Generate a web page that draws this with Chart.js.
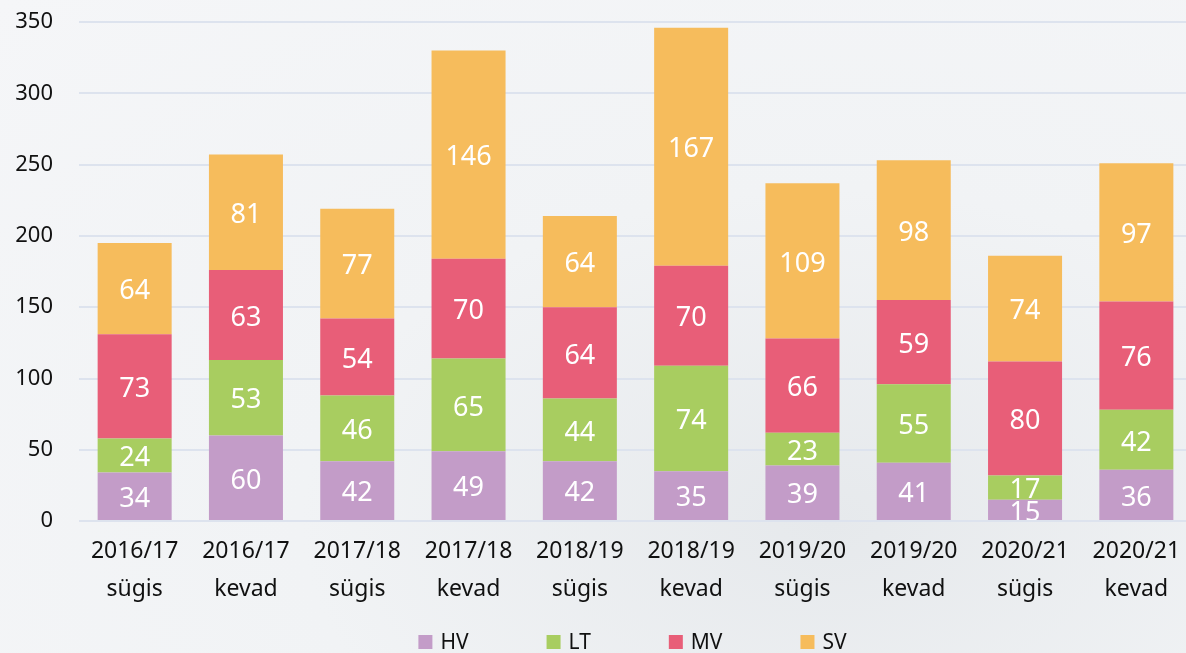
<!DOCTYPE html>
<html>
<head>
<meta charset="utf-8">
<script src="https://cdn.jsdelivr.net/npm/chart.js@4"></script>
<style>
  html, body { margin: 0; padding: 0; overflow: hidden; }
  body {
    width: 1186px; height: 653px;
    background: radial-gradient(ellipse at 70% 80%, #e6e9ec 0%, #f1f3f5 45%, #f5f6f8 100%);
  }
  #wrap { position: absolute; left: 0; top: 0; width: 1192px; height: 653px; }
</style>
</head>
<body>
<div id="wrap"><canvas id="chart"></canvas></div>
<script>
// categories and series
const labels = [
    ['2016/17', 'sügis'], ['2016/17', 'kevad'],
    ['2017/18', 'sügis'], ['2017/18', 'kevad'],
    ['2018/19', 'sügis'], ['2018/19', 'kevad'],
    ['2019/20', 'sügis'], ['2019/20', 'kevad'],
    ['2020/21', 'sügis'], ['2020/21', 'kevad']
];
const hv = [34, 60, 42, 49, 42, 35, 39, 41, 15, 36];
const lt = [24, 53, 46, 65, 44, 74, 23, 55, 17, 42];
const mv = [73, 63, 54, 70, 64, 70, 66, 59, 80, 76];
const sv = [64, 81, 77, 146, 64, 167, 109, 98, 74, 97];

const fontFamily = "'Noto Sans', 'Open Sans', sans-serif";

// white value labels inside each bar segment, clipped to the segment
const barLabels = {
    id: 'barLabels',
    afterDatasetsDraw(chart) {
        const ctx = chart.ctx;
        chart.data.datasets.forEach((ds, i) => {
            const meta = chart.getDatasetMeta(i);
            meta.data.forEach((bar, j) => {
                const top = Math.min(bar.y, bar.base);
                const h = Math.abs(bar.base - bar.y);
                ctx.save();
                ctx.beginPath();
                ctx.rect(bar.x - bar.width / 2, top, bar.width, h);
                ctx.clip();
                ctx.fillStyle = '#ffffff';
                ctx.font = '27px ' + fontFamily;
                ctx.textAlign = 'center';
                ctx.textBaseline = 'middle';
                ctx.fillText(ds.data[j], bar.x, top + h / 2 + 3);
                ctx.restore();
            });
        });
    }
};

// legend row under the axis (built-in legend pads vertically by the item gap)
const bottomLegend = {
    id: 'bottomLegend',
    afterDraw(chart) {
        const ctx = chart.ctx;
        const box = 14, gap = 8, spacing = 78;
        ctx.save();
        ctx.font = '21px ' + fontFamily;
        const items = chart.data.datasets.map(ds => ({
            text: ds.label, color: ds.backgroundColor, w: ctx.measureText(ds.label).width
        }));
        const total = items.reduce((s, it) => s + box + gap + it.w, 0) + spacing * (items.length - 1);
        const area = chart.chartArea;
        let x = (area.left + area.right) / 2 - total / 2 - 3;
        const y = chart.scales.x.bottom + 23;
        ctx.textBaseline = 'middle';
        ctx.textAlign = 'left';
        items.forEach(it => {
            ctx.fillStyle = it.color;
            ctx.fillRect(x, y - box / 2, box, box);
            ctx.fillStyle = '#111111';
            ctx.fillText(it.text, x + box + gap, y + 1);
            x += box + gap + it.w + spacing;
        });
        ctx.restore();
    }
};

const ctx = document.getElementById('chart').getContext('2d');
const chart = new Chart(ctx, {
    type: 'bar',
    data: {
        labels: labels,
        datasets: [
            { label: 'HV', data: hv, backgroundColor: '#c39cc8' },
            { label: 'LT', data: lt, backgroundColor: '#a8cd60' },
            { label: 'MV', data: mv, backgroundColor: '#e85e78' },
            { label: 'SV', data: sv, backgroundColor: '#f6bc5c' }
        ]
    },
    options: {
        responsive: true,
        maintainAspectRatio: false,
        animation: false,
        datasets: {
            bar: { barPercentage: 0.665, categoryPercentage: 1.0, borderWidth: 0 }
        },
        layout: { padding: { left: 15, top: 22, right: 0, bottom: 34 } },
        scales: {
            x: {
                stacked: true,
                grid: { display: false, drawTicks: false },
                border: { display: false },
                ticks: {
                    color: '#111111',
                    padding: 11,
                    maxRotation: 0,
                    autoSkip: false,
                    font: { family: fontFamily, size: 23, lineHeight: 1.65 }
                }
            },
            y: {
                stacked: true,
                min: 0,
                max: 350,
                grid: { color: '#dde3ee', lineWidth: 2, drawTicks: false },
                border: { display: false },
                afterFit(scale) {
                    scale.width = 64;
                    scale.paddingTop = 0;
                    scale.paddingBottom = 0;
                },
                ticks: {
                    stepSize: 50,
                    color: '#111111',
                    padding: 26,
                    font: { family: fontFamily, size: 22 }
                }
            }
        },
        plugins: {
            legend: { display: false },
            tooltip: { enabled: false }
        }
    },
    plugins: [barLabels, bottomLegend]
});
</script>
</body>
</html>
